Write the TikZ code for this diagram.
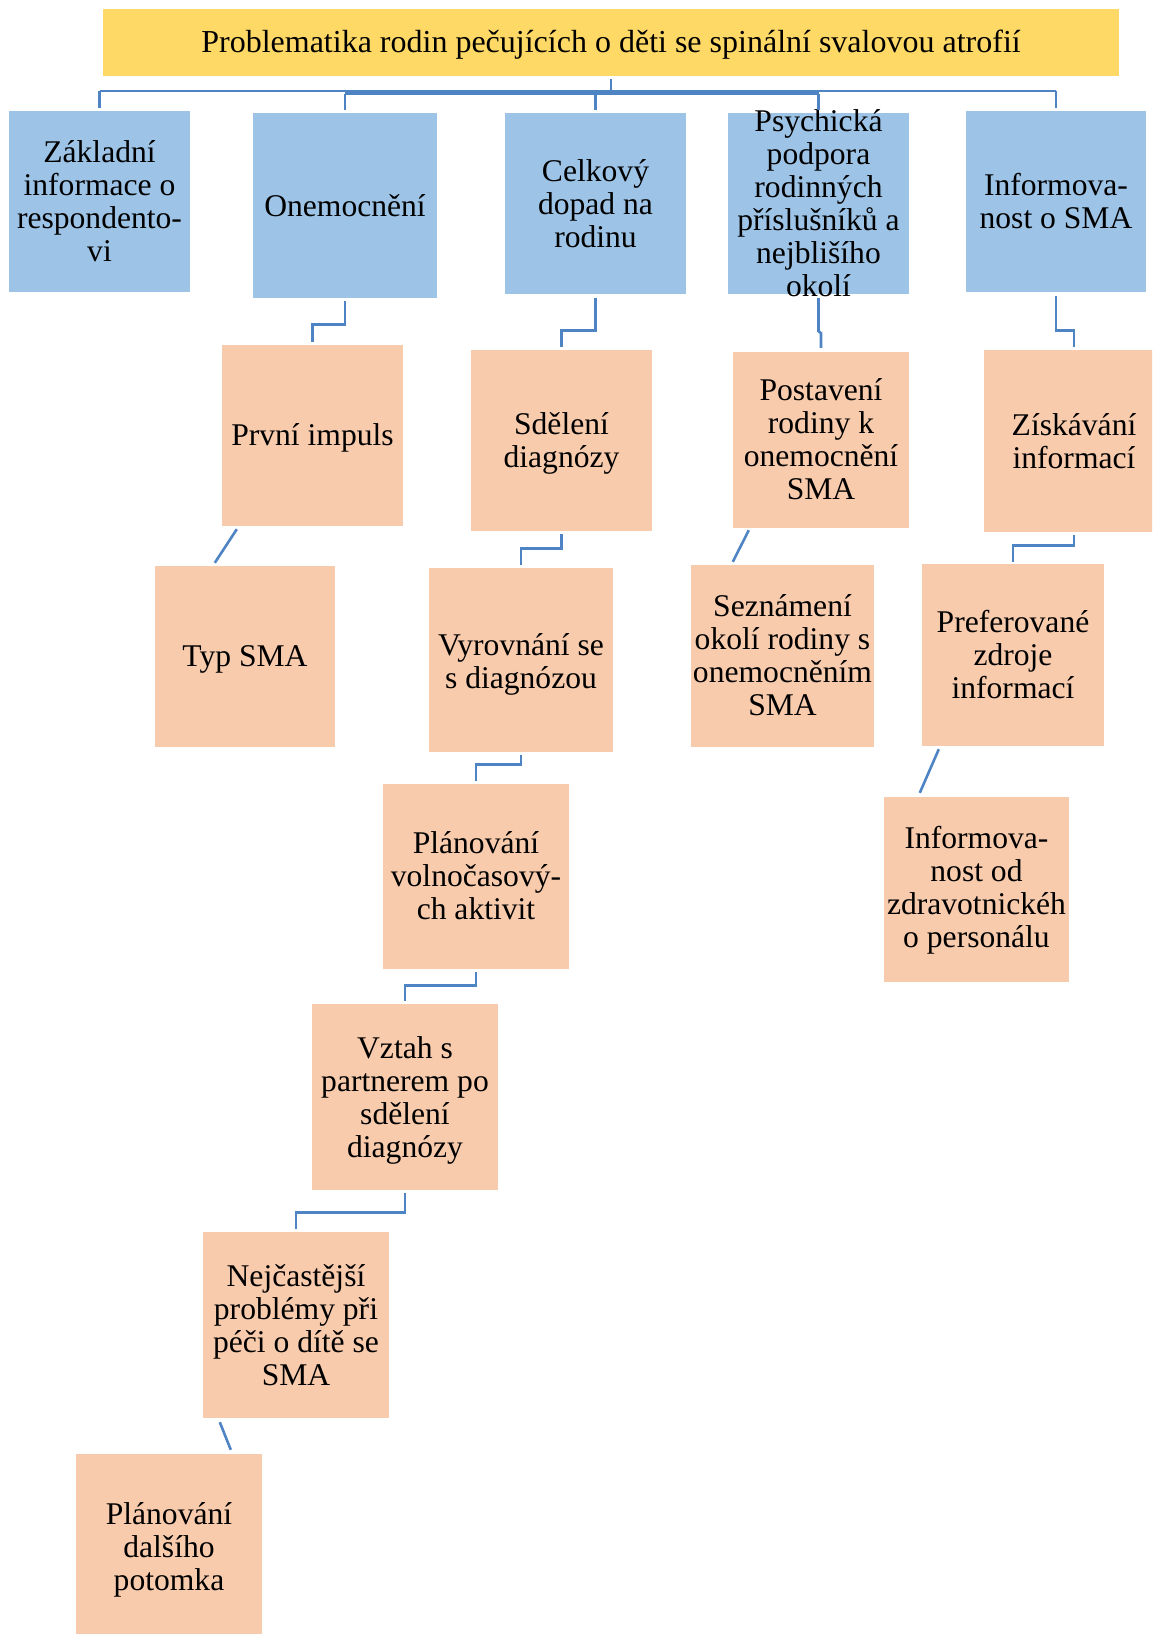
\documentclass[tikz,border=0pt]{standalone}
\usepackage{fontspec}
\setmainfont{Liberation Serif}
\usetikzlibrary{calc}
\definecolor{cyel}{HTML}{FFD966}
\definecolor{cblu}{HTML}{9DC3E6}
\definecolor{cora}{HTML}{F8CBAD}
\definecolor{ccon}{HTML}{4F84C4}
\tikzset{
  bx/.style={rectangle, draw=none, inner sep=0pt, minimum width=181pt, minimum height=181pt},
  tbox/.style={bx, fill=cyel, minimum width=1016pt, minimum height=67pt},
  bbox/.style={bx, fill=cblu},
  obox/.style={bx, fill=cora},
  txt/.style={inner sep=0pt, align=center, font=\fontsize{31.6}{33}\selectfont},
  con/.style={draw=ccon, line width=2.6pt}
}
\begin{document}
\begin{tikzpicture}[x=1pt,y=-1pt]
\useasboundingbox (0,0) rectangle (1152,1634);
\clip (0,0) rectangle (1152,1634);
% title
\node[tbox] (tit) at (611,42.5) {};
\node[txt, font=\fontsize{32}{33}\selectfont, yshift=-2pt] at (tit) {Problematika rodin pečujících o děti se spinální svalovou atrofií};
% level 1
\node[bbox, minimum width=181pt, minimum height=181pt] (zak) at (99.5,201.5) {};
\node[txt] at (zak) {Základní\\informace o\\respondento-\\vi};
\node[bbox, minimum width=184pt, minimum height=185pt] (one) at (345,205.5) {};
\node[txt] at (one) {Onemocnění};
\node[bbox, minimum width=181pt, minimum height=181pt] (cel) at (595.5,203.5) {};
\node[txt] at (cel) {Celkový\\dopad na\\rodinu};
\node[bbox, minimum width=181pt, minimum height=181pt] (psy) at (818.5,203.5) {};
\node[txt] at (psy) {Psychická\\podpora\\rodinných\\příslušníků a\\nejblišího\\okolí};
\node[bbox, minimum width=180pt, minimum height=181pt] (ins) at (1056,201.5) {};
\node[txt] at (ins) {Informova-\\nost o SMA};
% level 2
\node[obox, minimum width=181pt, minimum height=181pt] (prv) at (312.5,435.5) {};
\node[txt, yshift=-2pt] at (prv) {První impuls};
\node[obox, minimum width=181pt, minimum height=181pt] (sde) at (561.5,440.5) {};
\node[txt, yshift=-3pt] at (sde) {Sdělení\\diagnózy};
\node[obox, minimum width=176pt, minimum height=176pt] (pos) at (821,440) {};
\node[txt, yshift=1pt] at (pos) {Postavení\\rodiny k\\onemocnění\\SMA};
\node[obox, minimum width=180pt, minimum height=182pt] (zis) at (1074,441) {};
\node[txt] at (zis) {Získávání\\informací};
% level 3
\node[obox, minimum width=180pt, minimum height=181pt] (typ) at (245,656.5) {};
\node[txt, yshift=-3pt] at (typ) {Typ SMA};
\node[obox, minimum width=184pt, minimum height=184pt] (vyr) at (521,660) {};
\node[txt, yshift=-4pt] at (vyr) {Vyrovnání se\\s diagnózou};
\node[obox, minimum width=183pt, minimum height=182pt] (sez) at (782.5,656) {};
\node[txt, yshift=1pt] at (sez) {Seznámení\\okolí rodiny s\\onemocněním\\SMA};
\node[obox, minimum width=182pt, minimum height=182pt] (pre) at (1013,655) {};
\node[txt] at (pre) {Preferované\\zdroje\\informací};
% lower
\node[obox, minimum width=185pt, minimum height=185pt] (ido) at (976.5,889.5) {};
\node[txt, yshift=-1pt] at (ido) {Informova-\\nost od\\zdravotnickéh\\o personálu};
\node[obox, minimum width=186pt, minimum height=185pt] (pla) at (476,876.5) {};
\node[txt, yshift=1pt] at (pla) {Plánování\\volnočasový-\\ch aktivit};
\node[obox, minimum width=186pt, minimum height=186pt] (vzt) at (405,1097) {};
\node[txt, yshift=-3pt] at (vzt) {Vztah s\\partnerem po\\sdělení\\diagnózy};
\node[obox, minimum width=186pt, minimum height=186pt] (nej) at (296,1325) {};
\node[txt] at (nej) {Nejčastější\\problémy při\\péči o dítě se\\SMA};
\node[obox, minimum width=186pt, minimum height=186pt] (pld) at (169,1547) {};
\node[txt, yshift=-3pt] at (pld) {Plánování\\dalšího\\potomka};
% bus
\coordinate (busy) at (0,91);
\coordinate (busyb) at (0,93.5);
\draw[con] ([yshift=-3pt]tit.south) -- (tit.south |- busy);
\draw[con] (zak.north |- busy) -- (ins.north |- busy);
\draw[con] (one.north |- busyb) -- (psy.north |- busyb);
\draw[con] (zak.north |- busy) -- ([yshift=3pt]zak.north);
\draw[con] (ins.north |- busy) -- ([yshift=3pt]ins.north);
\draw[con] (one.north |- busyb) -- ([yshift=3pt]one.north);
\draw[con] (cel.north |- busyb) -- ([yshift=3pt]cel.north);
\draw[con] (psy.north |- busyb) -- ([yshift=3pt]psy.north);
% elbows
\draw[con] ([yshift=-3pt]one.south) -- ++(0,23) -| ([yshift=3pt]prv.north);
\draw[con] ([yshift=-4pt]cel.south) -- ++(0,32) -| ([yshift=3pt]sde.north);
\draw[con] ([yshift=-4pt]psy.south) -- ++(0,33) -- ++(2.5,2) -- ([yshift=4pt]pos.north);
\draw[con] ([yshift=-4pt]ins.south) -- ++(0,34) -| ([yshift=3pt]zis.north);
\draw[con] ([yshift=-3pt]sde.south) -- ++(0,14) -| ([yshift=3pt]vyr.north);
\draw[con] ([yshift=-3pt]zis.south) -- ++(0,10) -| ([yshift=2pt]pre.north);
\draw[con] ([yshift=-3pt]vyr.south) -- ++(0,9) -| ([yshift=3pt]pla.north);
\draw[con] ([yshift=-3pt]pla.south) -- ++(0,13) -| ([yshift=3pt]vzt.north);
\draw[con] ([yshift=-3pt]vzt.south) -- ++(0,19) -| ([yshift=3pt]nej.north);
% diagonals
\draw[con] ([shift={(15,3)}]prv.south west) -- ([shift={(60,-3)}]typ.north west);
\draw[con] ([shift={(16,2)}]pos.south west) -- ([shift={(42,-3)}]sez.north west);
\draw[con] ([shift={(17,3)}]pre.south west) -- ([shift={(36,-4)}]ido.north west);
\draw[con] ([shift={(17,4)}]nej.south west) -- ([shift={(155,-4)}]pld.north west);
\end{tikzpicture}
\end{document}
